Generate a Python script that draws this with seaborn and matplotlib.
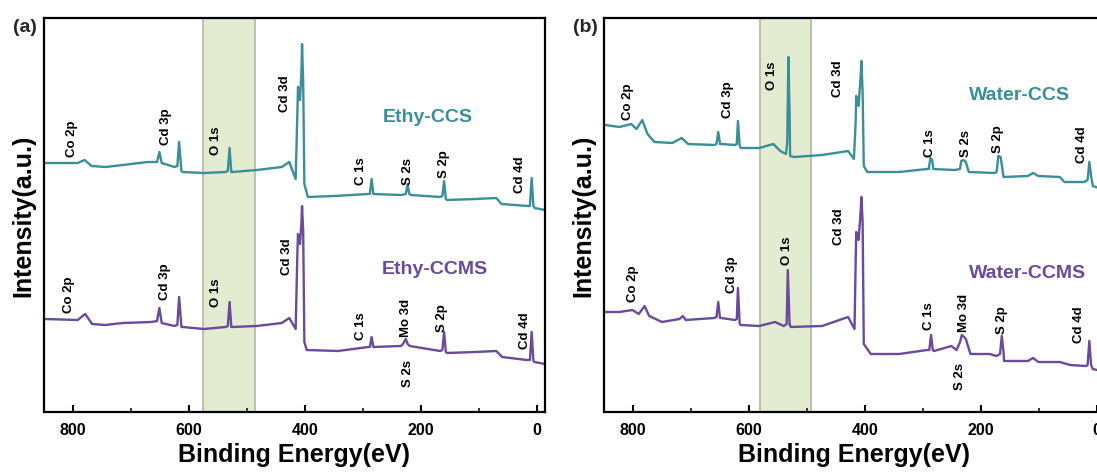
import matplotlib
matplotlib.use("Agg")
import matplotlib.pyplot as plt
from matplotlib.ticker import MultipleLocator
import numpy as np
import pandas as pd
import seaborn as sns

# ---------------- survey spectra (binding energy in eV, intensity in a.u.) ----------------
ethy_ccs_be = [848, 792, 780, 768, 744, 714, 671, 655, 651, 647, 625, 620, 617, 613, 611, 574, 537,
               533, 530, 527, 525, 483, 440, 427, 416, 413, 412, 410, 408.5, 406, 405, 403, 401, 395,
               349, 291, 288, 285, 282, 234, 226, 223, 220, 217, 167, 163, 160, 157, 155, 106, 70, 61,
               15, 12, 9, 6, 4, -14]
ethy_ccs_int = [249, 249, 252, 246, 245, 247, 250, 250, 260, 249, 245, 246, 270, 241, 240, 239, 240,
                241, 264, 240, 240, 242, 245, 250, 233, 300, 325, 320, 312, 340, 368, 330, 228, 215,
                216, 218, 218, 233, 218, 217, 218, 228, 218, 217, 215, 216, 231, 213, 212, 213, 214, 208,
                206, 206, 234, 206, 204, 202]

ethy_ccms_be = [848, 792, 779, 767, 745, 714, 665, 655, 651, 647, 625, 620, 617, 613, 611, 574, 537,
                533, 530, 527, 525, 483, 440, 427, 416, 413, 412, 410, 408.5, 406, 405, 403, 401, 397,
                343, 291, 288, 285, 282, 234, 231, 229, 226, 223, 219, 167, 163, 160, 157, 155, 106, 70,
                60, 17, 12, 9, 6, 4, -14]
ethy_ccms_int = [93, 92, 98, 88, 87, 89, 90, 91, 104, 89, 86, 87, 115, 85, 85, 83, 85,
                 86, 110, 85, 85, 86, 89, 94, 83, 160, 178, 172, 168, 190, 206, 180, 70, 62,
                 61, 65, 65, 75, 65, 66, 68, 70, 73, 68, 66, 61, 62, 80, 60, 59, 60, 61,
                 55, 52, 52, 80, 51, 50, 48]

water_ccs_be = [848, 823, 803, 794, 784, 775, 763, 732, 716, 705, 660, 656, 653, 650, 648, 624, 621,
                619, 616, 614, 582, 558, 546, 536, 534, 532, 530, 529, 522, 474, 429, 419, 416, 415,
                413, 411, 408, 406, 404, 402, 396, 341, 293, 290, 287, 284, 282, 245, 236, 234, 230,
                226, 221, 176, 173, 170, 166, 161, 119, 110, 101, 64, 56, 22, 16, 13, 10, 7, -14]
water_ccs_int = [287, 285, 288, 283, 292, 278, 270, 269, 274, 268, 267, 268, 280, 268, 268, 267, 268,
                 291, 266, 264, 264, 268, 261, 258, 270, 355, 300, 256, 255, 257, 261, 253, 290, 316,
                 312, 306, 330, 351, 320, 246, 240, 240, 243, 243, 254, 252, 243, 242, 243, 251, 252,
                 250, 240, 239, 240, 256, 255, 235, 236, 239, 236, 235, 230, 230, 232, 250, 236, 226, 222]

water_ccms_be = [848, 823, 801, 790, 780, 772, 750, 720, 714, 709, 660, 656, 653, 650, 648, 624, 621,
                 619, 616, 614, 582, 555, 540, 535, 533, 530, 528, 474, 429, 418, 416, 415, 413, 411,
                 408, 406, 404, 402, 390, 341, 293, 289, 286, 283, 281, 251, 242, 236, 233, 229, 226,
                 218, 185, 173, 167, 164, 161, 160, 119, 110, 101, 64, 46, 19, 16, 13, 10, 7, -14]
water_ccms_int = [100, 100, 102, 98, 106, 96, 90, 93, 96, 92, 94, 95, 110, 94, 94, 92, 93,
                  124, 88, 87, 86, 90, 86, 88, 142, 88, 85, 86, 95, 83, 150, 180, 176, 172,
                  195, 215, 190, 68, 58, 58, 62, 62, 77, 62, 61, 66, 62, 70, 77, 75, 73,
                  58, 58, 56, 58, 76, 60, 51, 51, 54, 50, 50, 47, 46, 47, 71, 47, 43, 40]

# ---------------- peak assignments: (text, energy, height, anchor) ----------------
ethy_ccs_peaks = [("Co 2p", 801, 256, "bottom"), ("Cd 3p", 640, 268, "bottom"),
                  ("O 1s", 554, 258, "bottom"), ("Cd 3d", 435, 301, "bottom"),
                  ("C 1s", 304, 228, "bottom"), ("S 2s", 223, 228, "bottom"),
                  ("S 2p", 160, 235, "bottom"), ("Cd 4d", 29, 220, "bottom")]
ethy_ccms_peaks = [("Co 2p", 807, 100, "bottom"), ("Cd 3p", 642, 113, "bottom"),
                   ("O 1s", 554, 106, "bottom"), ("Cd 3d", 431, 138, "bottom"),
                   ("C 1s", 304, 73, "bottom"), ("Mo 3d", 225, 76, "bottom"),
                   ("S 2s", 222, 53, "top"), ("S 2p", 164, 81, "bottom"),
                   ("Cd 4d", 21, 64, "bottom")]
water_ccs_peaks = [("Co 2p", 808, 293, "bottom"), ("Cd 3p", 637, 295, "bottom"),
                   ("O 1s", 561, 323, "bottom"), ("Cd 3d", 447, 316, "bottom"),
                   ("C 1s", 287, 256, "bottom"), ("S 2s", 226, 256, "bottom"),
                   ("S 2p", 170, 260, "bottom"), ("Cd 4d", 25, 250, "bottom")]
water_ccms_peaks = [("Co 2p", 800, 111, "bottom"), ("Cd 3p", 630, 120, "bottom"),
                    ("O 1s", 534, 148, "bottom"), ("Cd 3d", 444, 168, "bottom"),
                    ("C 1s", 290, 83, "bottom"), ("Mo 3d", 230, 81, "bottom"),
                    ("S 2s", 236, 50, "top"), ("S 2p", 164, 79, "bottom"),
                    ("Cd 4d", 31, 70, "bottom")]

panel_tags = ["(a)", "(b)"]
series_names = [("Ethy-CCS", "Ethy-CCMS"), ("Water-CCS", "Water-CCMS")]
name_positions = [((188, 295), (176, 144)), ((134, 318), (119, 140))]
o1s_bands = [(576, 486), (581, 493)]

TEAL = "#3a8e98"
PURPLE = "#6a4a9c"
BAND = "#e3ebd0"
BAND_EDGE = "#b7bea9"

sns.set_theme(style="ticks")
plt.rcParams["font.family"] = ["Liberation Sans", "DejaVu Sans"]
plt.rcParams["font.weight"] = "bold"
plt.rcParams["axes.labelweight"] = "bold"

fig = plt.figure(figsize=(10.97, 4.77), dpi=100)
ax_a = fig.add_axes([44 / 1097, 1 - 413 / 477, 501 / 1097, 394 / 477])
ax_b = fig.add_axes([604 / 1097, 1 - 413 / 477, 501 / 1097, 394 / 477])

panels = [
    (ax_a, (ethy_ccs_be, ethy_ccs_int), (ethy_ccms_be, ethy_ccms_int),
     ethy_ccs_peaks, ethy_ccms_peaks),
    (ax_b, (water_ccs_be, water_ccs_int), (water_ccms_be, water_ccms_int),
     water_ccs_peaks, water_ccms_peaks),
]

for i, (ax, top, bottom, top_peaks, bottom_peaks) in enumerate(panels):
    hi, lo = o1s_bands[i]
    ax.axvspan(lo, hi, color=BAND, zorder=0, lw=0)
    for edge in (lo, hi):
        ax.axvline(edge, color=BAND_EDGE, lw=1.3, zorder=0.5)

    for (be, inten), color in ((top, TEAL), (bottom, PURPLE)):
        df = pd.DataFrame({"be": be, "intensity": inten})
        sns.lineplot(data=df, x="be", y="intensity", ax=ax, color=color, lw=1.7,
                     sort=False, estimator=None)

    for peaks in (top_peaks, bottom_peaks):
        for text, e, h, va in peaks:
            ax.text(e, h, text, rotation=90, ha="center", va=va, fontsize=9.5,
                    fontweight="bold", color="black")

    (n_top, n_bot) = series_names[i]
    (p_top, p_bot) = name_positions[i]
    ax.text(p_top[0], p_top[1], n_top, color=TEAL, fontsize=14, fontweight="bold",
            ha="center", va="center")
    ax.text(p_bot[0], p_bot[1], n_bot, color=PURPLE, fontsize=14, fontweight="bold",
            ha="center", va="center")

    ax.set_xlim(850, -14)
    ax.set_ylim(0, 394)
    ax.xaxis.set_major_locator(MultipleLocator(200))
    ax.xaxis.set_minor_locator(MultipleLocator(100))
    ax.set_yticks([])
    ax.tick_params(axis="x", which="major", direction="in", length=5, width=1.5,
                   labelsize=11.5, pad=7, colors="black")
    ax.tick_params(axis="x", which="minor", direction="in", length=3, width=1.3)
    for lab in ax.get_xticklabels():
        lab.set_fontweight("bold")
    for sp in ax.spines.values():
        sp.set_visible(True)
        sp.set_color("black")
        sp.set_linewidth(1.6)
    ax.set_xlabel("Binding Energy(eV)", fontsize=18, fontweight="bold", labelpad=4,
                  color="black")
    ax.set_ylabel("Intensity(a.u.)", fontsize=18, fontweight="bold", labelpad=6,
                  color="black")
    ax.set_facecolor("white")

fig.text(25 / 1097, 1 - 27 / 477, panel_tags[0], fontsize=14, fontweight="bold",
         ha="center", va="center")
fig.text(585 / 1097, 1 - 27 / 477, panel_tags[1], fontsize=14, fontweight="bold",
         ha="center", va="center")

fig.savefig("out.png", dpi=100)
